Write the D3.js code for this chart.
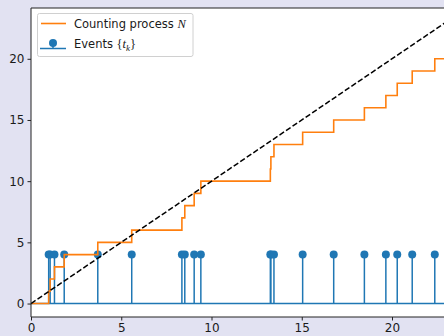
<!DOCTYPE html>
<html>
<head>
<meta charset="utf-8">
<script src="https://cdn.jsdelivr.net/npm/d3@7"></script>
<style>
  html, body { margin: 0; padding: 0; background: #e2e2f2; }
  svg { display: block; }
  text { font-family: "DejaVu Sans", sans-serif; fill: #1a1a1a; }
  .math { font-family: "Liberation Serif", "DejaVu Serif", serif; }
</style>
</head>
<body>
<svg id="chart" width="444" height="336"></svg>
<script>
// Event times t_k of the point process
const eventTimes = [0.98, 1.06, 1.30, 1.84, 3.70, 5.58, 8.36, 8.52, 9.04, 9.41,
                    13.26, 13.29, 13.46, 15.05, 16.77, 18.47, 19.66, 20.29, 21.12, 22.37];
// Height of the event stems
const stemHeight = 4;
// Horizon of the observation window and the reference line y = t
const horizon = 24;
const diagonal = [0, horizon];
const xTicks = [0, 5, 10, 15, 20];
const yTicks = [0, 5, 10, 15, 20];
const legendLabels = ["Counting process ", "Events "];

const svg = d3.select("#chart");
const W = 444, H = 336;
const plot = { left: 31, top: 8, bottom: 317 };
const pxPerUnitX = 18.05;

const x = d3.scaleLinear().domain([0, horizon]).range([plot.left, plot.left + horizon * pxPerUnitX]);
const y = d3.scaleLinear().domain([-1.1, 24.15]).range([plot.bottom, plot.top]);

// axes background
svg.append("rect")
  .attr("x", plot.left).attr("y", plot.top)
  .attr("width", W - plot.left + 10).attr("height", plot.bottom - plot.top)
  .attr("fill", "#ffffff");

svg.append("defs").append("clipPath").attr("id", "clip")
  .append("rect")
  .attr("x", plot.left).attr("y", plot.top)
  .attr("width", W - plot.left + 10).attr("height", plot.bottom - plot.top);

const g = svg.append("g").attr("clip-path", "url(#clip)");

const blue = "#1f77b4", orange = "#ff7f0e";

// stem baseline
g.append("line")
  .attr("x1", x(0)).attr("x2", x(horizon))
  .attr("y1", y(0)).attr("y2", y(0))
  .attr("stroke", blue).attr("stroke-width", 1.5);

// stems
g.selectAll("line.stem").data(eventTimes).join("line")
  .attr("class", "stem")
  .attr("x1", d => x(d)).attr("x2", d => x(d))
  .attr("y1", y(0)).attr("y2", y(stemHeight))
  .attr("stroke", blue).attr("stroke-width", 1.5);

g.selectAll("circle.head").data(eventTimes).join("circle")
  .attr("class", "head")
  .attr("cx", d => x(d)).attr("cy", y(stemHeight)).attr("r", 4)
  .attr("fill", blue);

// counting process N(t) as a right-continuous step function
const steps = [[0, 0]].concat(eventTimes.map((t, i) => [t, i + 1]), [[horizon, eventTimes.length]]);
g.append("path")
  .datum(steps)
  .attr("fill", "none")
  .attr("stroke", orange).attr("stroke-width", 1.6)
  .attr("d", d3.line().x(d => x(d[0])).y(d => y(d[1])).curve(d3.curveStepAfter));

// reference line y = t
g.append("line")
  .attr("x1", x(diagonal[0])).attr("y1", y(diagonal[0]))
  .attr("x2", x(diagonal[1])).attr("y2", y(diagonal[1]))
  .attr("stroke", "#000").attr("stroke-width", 1.5)
  .attr("stroke-dasharray", "5.5,2.4");

// spines
svg.append("line").attr("x1", plot.left).attr("x2", W + 5)
  .attr("y1", plot.top).attr("y2", plot.top)
  .attr("stroke", "#222").attr("stroke-width", 1);
svg.append("line").attr("x1", plot.left).attr("x2", plot.left)
  .attr("y1", plot.top).attr("y2", plot.bottom)
  .attr("stroke", "#222").attr("stroke-width", 1);
svg.append("line").attr("x1", plot.left).attr("x2", W + 5)
  .attr("y1", plot.bottom).attr("y2", plot.bottom)
  .attr("stroke", "#222").attr("stroke-width", 1);

// axes
const xAxis = d3.axisBottom(x).tickValues(xTicks).tickSize(3.5).tickPadding(3);
const yAxis = d3.axisLeft(y).tickValues(yTicks).tickSize(3.5).tickPadding(3);

const gx = svg.append("g").attr("transform", `translate(0,${plot.bottom})`).call(xAxis);
const gy = svg.append("g").attr("transform", `translate(${plot.left},0)`).call(yAxis);
[gx, gy].forEach(a => {
  a.select(".domain").remove();
  a.selectAll(".tick line").attr("stroke", "#222");
  a.selectAll(".tick text").attr("font-size", 12).attr("font-family", "DejaVu Sans").attr("fill", "#1a1a1a");
});

// legend
const lg = svg.append("g");
lg.append("rect")
  .attr("x", 37.5).attr("y", 13.5).attr("width", 155.5).attr("height", 43)
  .attr("rx", 2).attr("fill", "#fff").attr("fill-opacity", 0.85)
  .attr("stroke", "#d0d0d0").attr("stroke-width", 1);

lg.append("line").attr("x1", 41).attr("x2", 66).attr("y1", 23.5).attr("y2", 23.5)
  .attr("stroke", orange).attr("stroke-width", 1.6);

lg.append("line").attr("x1", 40).attr("x2", 66).attr("y1", 48.5).attr("y2", 48.5)
  .attr("stroke", blue).attr("stroke-width", 1.5);
lg.append("line").attr("x1", 53).attr("x2", 53).attr("y1", 43).attr("y2", 48.5)
  .attr("stroke", blue).attr("stroke-width", 1.5);
lg.append("circle").attr("cx", 53).attr("cy", 43).attr("r", 4).attr("fill", blue);

const t1 = lg.append("text").attr("x", 74).attr("y", 27.5).attr("font-size", 11.5);
t1.append("tspan").text(legendLabels[0]);
t1.append("tspan").attr("class", "math").attr("font-style", "italic").attr("font-size", 12.5).text("N");

const t2 = lg.append("text").attr("x", 74).attr("y", 48).attr("font-size", 11.5);
t2.append("tspan").text(legendLabels[1]);
t2.append("tspan").attr("class", "math").attr("font-size", 12.5).text("{");
t2.append("tspan").attr("class", "math").attr("font-style", "italic").attr("font-size", 12.5).text("t");
t2.append("tspan").attr("class", "math").attr("font-style", "italic").attr("font-size", 9).attr("dy", 2.5).text("k");
t2.append("tspan").attr("class", "math").attr("font-size", 12.5).attr("dy", -2.5).text("}");
</script>
</body>
</html>
